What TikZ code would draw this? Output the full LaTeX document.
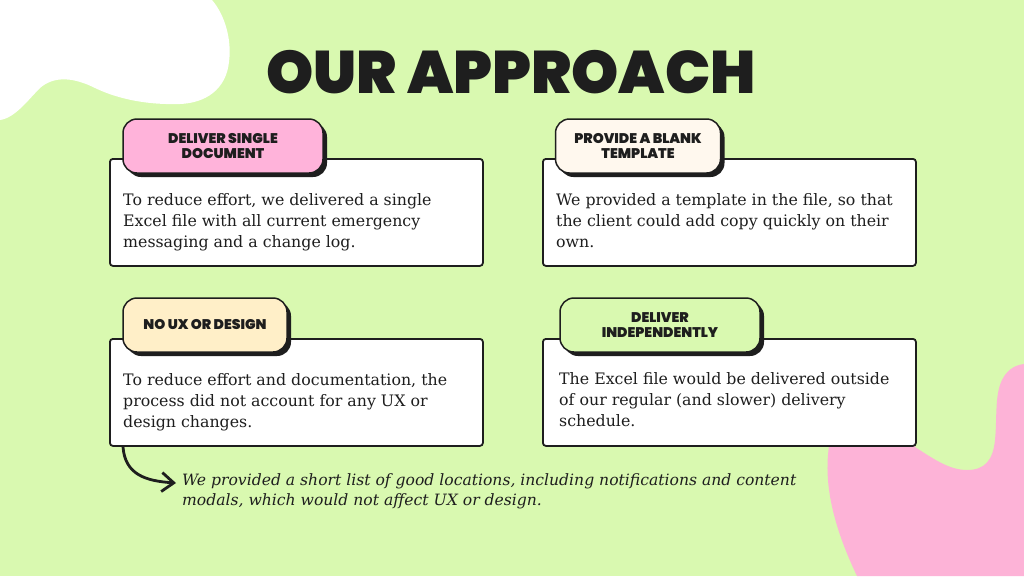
\documentclass[tikz,border=0pt]{standalone}
\usepackage{fontspec}
\setmainfont{DejaVu Serif}
\newfontfamily\heavy{Poppins Black}
\usetikzlibrary{shadows,arrows.meta}
\definecolor{bg}{HTML}{D9F9B0}
\definecolor{ink}{HTML}{1E1E1E}
\definecolor{pinktab}{HTML}{FFB3DA}
\definecolor{pinkblob}{HTML}{FDB3D7}
\definecolor{creamtab}{HTML}{FFF8EE}
\definecolor{yellowtab}{HTML}{FFEFC8}
\definecolor{greentab}{HTML}{D9F9B0}
\tikzset{
  bodybox/.style={draw=ink, fill=white, line width=1.8pt, rounded corners=3pt, anchor=north west, inner sep=0pt},
  tabbox/.style={draw=ink, line width=1.5pt, rounded corners=14pt, inner sep=0pt, minimum height=54pt,
     align=center, text=ink, font=\heavy\fontsize{14}{14.5}\selectfont,
     drop shadow={shadow xshift=4pt, shadow yshift=-4pt, opacity=1, fill=ink}},
  bodytext/.style={anchor=base west, inner sep=0pt, text=ink, font=\fontsize{15.8}{21}\selectfont},
  notetext/.style={anchor=base west, inner sep=0pt, text=ink, font=\itshape\fontsize{15.6}{20}\selectfont},
  arrowline/.style={draw=ink, line width=2.8pt, line cap=round, -{Straight Barb[length=12pt,width=19pt,line width=2.8pt]}}
}
\begin{document}
\begin{tikzpicture}[x=1pt,y=-1pt]
\useasboundingbox (0,0) rectangle (1024,576);
\fill[bg] (0,0) rectangle (1024,576);
% white blob
\fill[white] (0,0) -- (212,0) .. controls (225,15) and (232,40) .. (229,62)
  .. controls (226,90) and (205,103) .. (180,104)
  .. controls (150,105) and (120,100) .. (95,88)
  .. controls (75,78) and (55,75) .. (40,88)
  .. controls (28,100) and (15,118) .. (0,120) -- cycle;
% pink blob
\fill[pinkblob] (857,576) .. controls (835,530) and (825,490) .. (828,455)
  -- (830,435) -- (915,435) -- (915,447)
  .. controls (935,460) and (950,470) .. (967,470)
  .. controls (985,470) and (993,460) .. (995,440)
  .. controls (997,420) and (995,400) .. (1000,385)
  .. controls (1005,370) and (1015,365) .. (1024,364) -- (1024,576) -- cycle;
% title
\node[anchor=base, inner sep=0pt, text=ink, font=\heavy\fontsize{60}{60}\selectfont] (title) at (511,93) {OUR APPROACH};
% boxes
\node[bodybox, minimum width=373pt, minimum height=107pt] (b1) at (109,158) {};
\node[bodybox, minimum width=373pt, minimum height=107pt] (b2) at (542,158) {};
\node[bodybox, minimum width=373pt, minimum height=107pt] (b3) at (109,338) {};
\node[bodybox, minimum width=373pt, minimum height=107pt] (b4) at (542,338) {};
% tabs
\node[tabbox, fill=pinktab, minimum width=200pt] (t1) at (223,146) {DELIVER SINGLE\\DOCUMENT};
\node[tabbox, fill=creamtab, minimum width=165pt] (t2) at (638,146) {PROVIDE A BLANK\\TEMPLATE};
\node[tabbox, fill=yellowtab, minimum width=164pt] (t3) at (205,325) {NO UX OR DESIGN};
\node[tabbox, fill=greentab, minimum width=200pt] (t4) at (660,325) {DELIVER\\INDEPENDENTLY};
% body texts
\node[bodytext] (p1) at (123,205) {\begin{tabular}[t]{@{}l@{}}To reduce effort, we delivered a single\\Excel file with all current emergency\\messaging and a change log.\end{tabular}};
\node[bodytext] (p2) at (556,205) {\begin{tabular}[t]{@{}l@{}}We provided a template in the file, so that\\the client could add copy quickly on their\\own.\end{tabular}};
\node[bodytext] (p3) at (123,385) {\begin{tabular}[t]{@{}l@{}}To reduce effort and documentation, the\\process did not account for any UX or\\design changes.\end{tabular}};
\node[bodytext] (p4) at (559,384) {\begin{tabular}[t]{@{}l@{}}The Excel file would be delivered outside\\of our regular (and slower) delivery\\schedule.\end{tabular}};
% note
\node[notetext] (note) at (182,485) {\begin{tabular}[t]{@{}l@{}}We provided a short list of good locations, including notifications and content\\modals, which would not affect UX or design.\end{tabular}};
\coordinate (arrstart) at ([xshift=14pt]b3.south west);
\coordinate (arrend) at ([xshift=-6pt,yshift=2pt]note.base west);
\draw[arrowline] (arrstart) .. controls ++(2,28) and ++(-30,-2) .. (arrend);
\end{tikzpicture}
\end{document}
